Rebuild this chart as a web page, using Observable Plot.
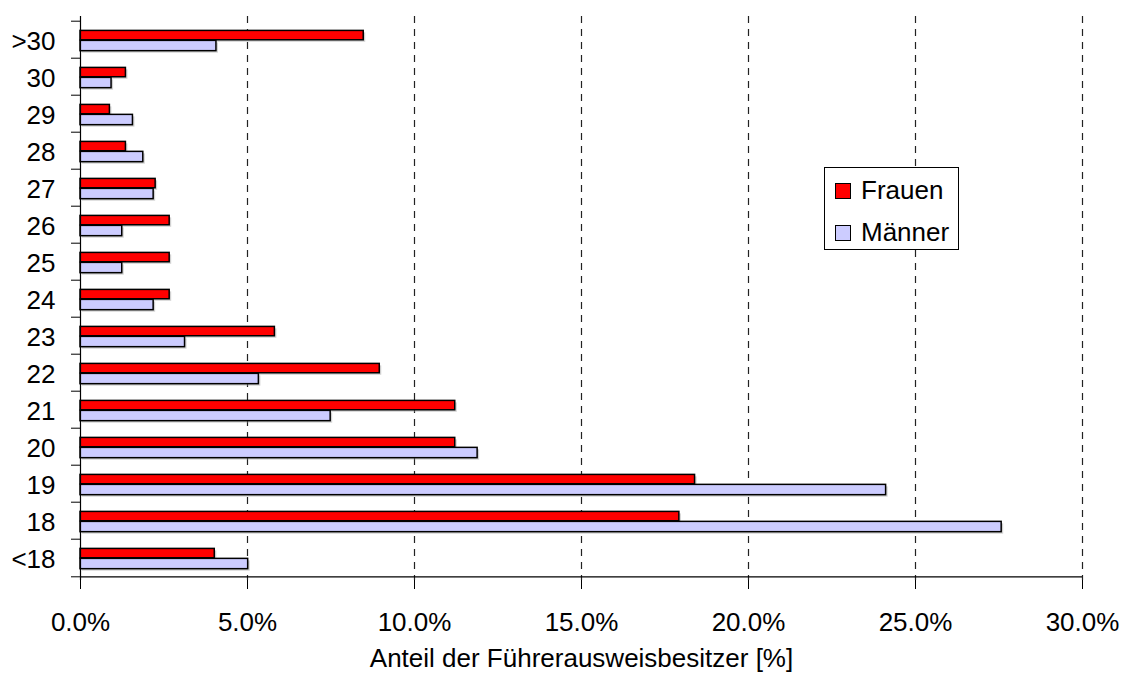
<!DOCTYPE html>
<html>
<head>
<meta charset="utf-8">
<script src="https://cdn.jsdelivr.net/npm/d3@7"></script>
<script src="https://cdn.jsdelivr.net/npm/@observablehq/plot@0.6"></script>
<style>
  html, body { margin: 0; padding: 0; background: #fff; }
  #wrap { position: relative; width: 1125px; height: 680px; font-family: "Liberation Sans", Arial, sans-serif; color: #000; }
  #legend { position: absolute; left: 824px; top: 167px; width: 135px; height: 83px; border: 1px solid #000; background: #fff; box-sizing: border-box; font-size: 26px; }
  .item { position: absolute; left: 10px; display: flex; align-items: center; }
  .sw { width: 16px; height: 16px; border: 1.5px solid #000; margin-right: 10px; box-sizing: border-box; }
</style>
</head>
<body>
<div id="wrap"></div>
<script>
const ages = [">30", "30", "29", "28", "27", "26", "25", "24", "23", "22", "21", "20", "19", "18", "<18"];
const frauen = [8.48, 1.36, 0.88, 1.36, 2.25, 2.67, 2.67, 2.67, 5.82, 8.96, 11.22, 11.22, 18.40, 17.93, 4.02];
const maenner = [4.07, 0.93, 1.57, 1.88, 2.19, 1.25, 1.25, 2.19, 3.13, 5.34, 7.49, 11.89, 24.12, 27.58, 5.02];
const xTicks = [0, 5, 10, 15, 20, 25, 30];
const gridTicks = [5, 10, 15, 20, 25, 30];
const seriesNames = ["Frauen", "Männer"];
const seriesColors = ["#FF0000", "#CCCCFF"];
const xLabel = "Anteil der Führerausweisbesitzer [%]";

const rowsF = ages.map((a, i) => ({age: a, value: frauen[i]}));
const rowsM = ages.map((a, i) => ({age: a, value: maenner[i]}));

const W = 1125, H = 680, mT = 16, mB = 100, mL = 80, mR = 43;
const bw = (H - mT - mB) / ages.length;

const chart = Plot.plot({
  width: W,
  height: H,
  marginTop: mT,
  marginBottom: mB,
  marginLeft: mL,
  marginRight: mR,
  style: {fontFamily: "'Liberation Sans', Arial, sans-serif", fontSize: "26px", color: "#000", background: "#fff"},
  x: {domain: [0, 30], label: null},
  y: {domain: ages, padding: 0, label: null},
  marks: [
    Plot.ruleX(gridTicks, {stroke: "#222", strokeWidth: 1.2, strokeDasharray: "7,6"}),
    // shadows
    Plot.barX(rowsF, {y: "age", x: "value", insetTop: bw * 0.25, insetBottom: bw * 0.485, fill: "#999", fillOpacity: 0.45, dx: 2, dy: 2}),
    Plot.barX(rowsM, {y: "age", x: "value", insetTop: bw * 0.515, insetBottom: bw * 0.195, fill: "#999", fillOpacity: 0.45, dx: 2, dy: 2}),
    Plot.barX(rowsF, {y: "age", x: "value", insetTop: bw * 0.25, insetBottom: bw * 0.485, fill: seriesColors[0], stroke: "#000", strokeWidth: 1.5}),
    Plot.barX(rowsM, {y: "age", x: "value", insetTop: bw * 0.515, insetBottom: bw * 0.195, fill: seriesColors[1], stroke: "#000", strokeWidth: 1.5}),
    Plot.ruleX([0], {stroke: "#000", strokeWidth: 1.2}),
    Plot.ruleY([ages[ages.length - 1]], {dy: bw / 2, stroke: "#000", strokeWidth: 1.2}),
    Plot.axisY({tickSize: 9, tickFormat: () => "", dy: -bw / 2, label: null}),
    Plot.axisY({ticks: [ages[ages.length - 1]], tickSize: 9, tickFormat: () => "", dy: bw / 2, label: null}),
    Plot.axisY({tickSize: 0, tickPadding: 25, fontSize: 26, dy: 2, label: null}),
    Plot.axisX({ticks: xTicks, tickSize: 9, tickPadding: 23, fontSize: 26, tickFormat: d => d.toFixed(1) + "%", label: null}),
    Plot.text([xLabel], {frameAnchor: "bottom", dy: 86, fontSize: 26, text: d => d})
  ]
});

const wrap = document.getElementById("wrap");
wrap.appendChild(chart);

const legend = document.createElement("div");
legend.id = "legend";
seriesNames.forEach((name, i) => {
  const item = document.createElement("div");
  item.className = "item";
  item.style.top = (i === 0 ? 7 : 49) + "px";
  const sw = document.createElement("div");
  sw.className = "sw";
  sw.style.background = seriesColors[i];
  const t = document.createElement("span");
  t.textContent = name;
  item.appendChild(sw);
  item.appendChild(t);
  legend.appendChild(item);
});
wrap.appendChild(legend);
</script>
</body>
</html>
